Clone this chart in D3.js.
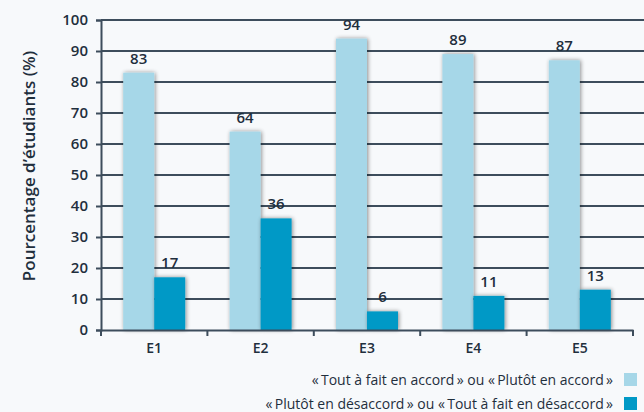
<!DOCTYPE html>
<html>
<head>
<meta charset="utf-8">
<script src="https://cdn.jsdelivr.net/npm/d3@7"></script>
<style>
  body { margin: 0; background: #f7f9fb; }
  svg { display: block; font-family: "Open Sans", "Noto Sans", sans-serif; }
</style>
</head>
<body>
<div id="chart"></div>
<script>
// data
const categories = ["E1", "E2", "E3", "E4", "E5"];
const accordValues = [83, 64, 94, 89, 87];
const desaccordValues = [17, 36, 6, 11, 13];
const yTicks = [0, 10, 20, 30, 40, 50, 60, 70, 80, 90, 100];
const seriesNames = [
  "\u00ab\u2009Tout \u00e0 fait en accord\u2009\u00bb ou \u00ab\u2009Plut\u00f4t en accord\u2009\u00bb",
  "\u00ab\u2009Plut\u00f4t en d\u00e9saccord\u2009\u00bb ou \u00ab\u2009Tout \u00e0 fait en d\u00e9saccord\u2009\u00bb"
];
const seriesColors = ["#a6d7e8", "#0099c6"];

const width = 644, height = 412;
const margin = {top: 20, right: 11, bottom: 82, left: 101};
const ink = "#3d4d5c", textInk = "#1f2f3d";

const svg = d3.select("#chart").append("svg")
  .attr("width", width)
  .attr("height", height);

// drop shadow used on the bars
const defs = svg.append("defs");
const shadow = defs.append("filter").attr("id", "shadow")
  .attr("x", "-30%").attr("y", "-10%").attr("width", "160%").attr("height", "120%");
shadow.append("feGaussianBlur").attr("in", "SourceAlpha").attr("stdDeviation", 2);
shadow.append("feOffset").attr("dx", 1).attr("dy", 0).attr("result", "blur");
shadow.append("feComponentTransfer").append("feFuncA").attr("type", "linear").attr("slope", 0.45);
const merge = shadow.append("feMerge");
merge.append("feMergeNode");
merge.append("feMergeNode").attr("in", "SourceGraphic");

let x = d3.scaleBand()
  .domain(categories)
  .range([margin.left, width - margin.right])
  .paddingInner(0)
  .paddingOuter(0);

let y = d3.scaleLinear()
  .domain([0, 100])
  .range([height - margin.bottom, margin.top]);

// gridlines
svg.append("g")
  .selectAll("line")
  .data(yTicks.filter(d => d > 0))
  .enter().append("line")
    .attr("x1", margin.left)
    .attr("x2", width)
    .attr("y1", d => y(d))
    .attr("y2", d => y(d))
    .attr("stroke", ink)
    .attr("stroke-width", 2);

// bars
const barW = 31;
const series = [accordValues, desaccordValues];
series.forEach((vals, s) => {
  const g = svg.append("g").attr("filter", "url(#shadow)");
  g.selectAll("rect")
    .data(vals)
    .enter().append("rect")
      .attr("x", (d, i) => x(categories[i]) + x.bandwidth() / 2 - barW + s * barW)
      .attr("y", d => y(d))
      .attr("width", barW)
      .attr("height", d => y(0) - y(d))
      .attr("fill", seriesColors[s]);

  svg.append("g").selectAll("text")
    .data(vals)
    .enter().append("text")
      .attr("x", (d, i) => x(categories[i]) + x.bandwidth() / 2 - barW / 2 + s * barW)
      .attr("y", d => y(d) - 9)
      .attr("text-anchor", "middle")
      .attr("fill", textInk)
      .style("font-size", "15px")
      .style("font-weight", 600)
      .text(d => d);
});

// y axis
const yAxis = svg.append("g")
  .attr("transform", `translate(${margin.left},0)`)
  .call(d3.axisLeft(y).tickValues(yTicks).tickSize(5).tickPadding(8));
yAxis.select(".domain").attr("stroke", ink).attr("stroke-width", 2);
yAxis.selectAll(".tick line").attr("stroke", ink).attr("stroke-width", 2);
yAxis.selectAll(".tick text")
  .attr("fill", textInk)
  .style("font-size", "15px")
  .style("font-weight", 600)
  .style("font-family", "'Open Sans', sans-serif");

// x axis
const xAxis = svg.append("g")
  .attr("transform", `translate(0,${y(0)})`)
  .call(d3.axisBottom(x).tickSize(0).tickPadding(13));
xAxis.select(".domain").attr("stroke", ink).attr("stroke-width", 2);
xAxis.selectAll(".tick text")
  .attr("fill", textInk)
  .style("font-size", "14px")
  .style("font-weight", 600)
  .style("font-family", "'Open Sans', sans-serif");

// boundary ticks between categories
const bounds = categories.map(c => x(c)).concat([x(categories[categories.length - 1]) + x.bandwidth()]);
svg.append("g").selectAll("line")
  .data(bounds)
  .enter().append("line")
    .attr("x1", d => d).attr("x2", d => d)
    .attr("y1", y(0)).attr("y2", y(0) + 6)
    .attr("stroke", ink)
    .attr("stroke-width", 2);

// y axis title
svg.append("text")
  .attr("transform", `translate(35,166) rotate(-90)`)
  .attr("text-anchor", "middle")
  .attr("fill", textInk)
  .style("font-size", "17px")
  .style("font-weight", 600)
  .text("Pourcentage d\u2019\u00e9tudiants (%)");

// legend
const legend = svg.append("g");
seriesNames.forEach((name, i) => {
  const ly = 380 + i * 24;
  legend.append("rect")
    .attr("x", 624).attr("y", ly - 7)
    .attr("width", 13).attr("height", 13)
    .attr("fill", seriesColors[i]);
  legend.append("text")
    .attr("x", 613).attr("y", ly)
    .attr("dy", "0.35em")
    .attr("text-anchor", "end")
    .attr("fill", textInk)
    .style("font-size", "14px")
    .text(name);
});
</script>
</body>
</html>
